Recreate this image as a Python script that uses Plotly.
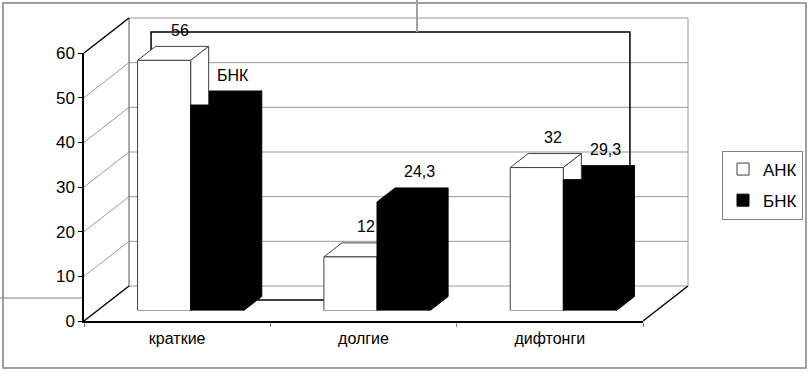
import plotly.graph_objects as go

# ---------------- data ----------------
categories = ["краткие", "долгие", "дифтонги"]
series_names = ["АНК", "БНК"]
ank_values = [56, 12, 32]
bnk_values = [46, 24.3, 29.3]
ank_labels = ["56", "12", "32"]
bnk_labels = ["БНК", "24,3", "29,3"]
y_ticks = [0, 10, 20, 30, 40, 50, 60]

# ---------------- geometry (pixels) ----------------
W, H = 811, 372
X0, X1 = 84, 643          # front plane x extent (category range -0.5..2.5)
Y0, YT = 321, 53          # front plane y for value 0 and value 60
YMAX = 60
DX, DY = 45, -35          # full depth offset
BAR_D0, BAR_DEPTH = 0.3, 0.4
BARGAP = 0.43
FONT = "Liberation Sans, Arial, sans-serif"

n = len(categories)
PXX = (X1 - X0) / n
PXY = (Y0 - YT) / YMAX
w = (1 - BARGAP) / 2      # bar width in category units


def P(xd, v, d):
    px = X0 + (xd + 0.5) * PXX + DX * d
    py = Y0 - v * PXY + DY * d
    return px / W, 1 - py / H


def line(a, b, color, width):
    return dict(type="line", xref="paper", yref="paper", layer="below",
                x0=a[0], y0=a[1], x1=b[0], y1=b[1],
                line=dict(color=color, width=width))


def path(points, color, width, closed=False):
    s = "M " + " L ".join(f"{x:.5f},{y:.5f}" for x, y in points)
    if closed:
        s += " Z"
    return dict(type="path", xref="paper", yref="paper", layer="below",
                path=s, line=dict(color=color, width=width))


def pxline(x0, y0, x1, y1, color, width):
    return dict(type="line", xref="paper", yref="paper", layer="below",
                x0=x0 / W, y0=1 - y0 / H, x1=x1 / W, y1=1 - y1 / H,
                line=dict(color=color, width=width))


shapes = []
GRID = "#9a9a9a"
# back wall gridlines
for v in y_ticks:
    shapes.append(line(P(-0.5, v, 1), P(n - 0.5, v, 1), GRID, 1))
# back wall edges
shapes.append(line(P(-0.5, 0, 1), P(-0.5, YMAX, 1), "#555555", 1))
shapes.append(line(P(n - 0.5, 0, 1), P(n - 0.5, YMAX, 1), GRID, 1))
# left wall diagonals
for v in y_ticks:
    col = "#000000" if v in (0, YMAX) else GRID
    wd = 1.5 if v in (0, YMAX) else 1
    shapes.append(line(P(-0.5, v, 0), P(-0.5, v, 1), col, wd))
# floor right edge
shapes.append(line(P(n - 0.5, 0, 0), P(n - 0.5, 0, 1), "#000000", 1.5))
# outline rectangle at series depth
RD = 0.6
shapes.append(path([P(-w, 0, RD), P(-w, YMAX, RD), P(n - 1 + w, YMAX, RD),
                    P(n - 1 + w, 0, RD)], "#000000", 1.5))
shapes.append(line(P(-w, 0, RD), P(1 + w, 0, RD), "#000000", 1.5))

# outer frame and stray document lines
shapes.append(dict(type="rect", xref="paper", yref="paper", layer="below",
                   x0=3 / W, x1=806 / W, y0=1 - 368 / H, y1=1 - 3 / H,
                   line=dict(color="#808080", width=1.5)))
shapes.append(pxline(417, 0, 417, 32, "#a0a0a0", 2))
shapes.append(pxline(0, 298, 84, 298, "#808080", 1))

# 3D faces of bars, in bar-plane data units
bdx = BAR_DEPTH * DX / PXX
bdy = -BAR_DEPTH * DY / PXY


def face(points, fill, outline):
    s = "M " + " L ".join(f"{x:.5f},{y:.5f}" for x, y in points) + " Z"
    return dict(type="path", xref="x", yref="y", layer="below", path=s,
                fillcolor=fill, line=dict(color=outline, width=1))


for i in range(n):
    for (x0, x1, v, fill, outline) in [
        (i, i + w, bnk_values[i], "#000000", "#000000"),
        (i - w, i, ank_values[i], "#ffffff", "#404040"),
    ]:
        shapes.append(face([(x0, v), (x0 + bdx, v + bdy), (x1 + bdx, v + bdy), (x1, v)],
                           fill, outline))
        shapes.append(face([(x1, 0), (x1, v), (x1 + bdx, v + bdy), (x1 + bdx, bdy)],
                           fill, outline))

# data labels
annotations = []
for i in range(n):
    for xc, v, t in [(i - w / 2, ank_values[i], ank_labels[i]),
                     (i + w / 2, bnk_values[i], bnk_labels[i])]:
        annotations.append(dict(x=xc, y=v, xref="x", yref="y", text=t,
                                showarrow=False, xshift=16, yshift=30,
                                font=dict(size=16, color="#000000", family=FONT)))

fig = go.Figure()
fig.add_trace(go.Bar(x=categories, y=ank_values, name=series_names[0],
                     marker=dict(color="#ffffff", line=dict(color="#404040", width=1)),
                     legendgroup="a", hoverinfo="x+y"))
fig.add_trace(go.Bar(x=categories, y=bnk_values, name=series_names[1],
                     marker=dict(color="#000000", line=dict(color="#000000", width=1)),
                     legendgroup="b", hoverinfo="x+y"))
fig.add_trace(go.Scatter(x=categories, y=[None] * n, xaxis="x2", yaxis="y2",
                         mode="markers", showlegend=False, hoverinfo="skip"))

bx0 = (X0 + BAR_D0 * DX) / W
bx1 = (X1 + BAR_D0 * DX) / W
by0 = 1 - (Y0 + BAR_D0 * DY) / H
by1 = 1 - (YT + BAR_D0 * DY) / H

fig.update_layout(
    width=W, height=H, autosize=False,
    margin=dict(l=0, r=0, t=0, b=0, autoexpand=False),
    paper_bgcolor="#ffffff",
    plot_bgcolor="rgba(0,0,0,0)",
    barmode="group", bargap=BARGAP, bargroupgap=0,
    font=dict(family=FONT, size=16, color="#000000"),
    xaxis=dict(domain=[bx0, bx1], type="category", categoryarray=categories,
               range=[-0.5, n - 0.5], showticklabels=False, showgrid=False,
               showline=False, zeroline=False, ticks="", automargin=False),
    yaxis=dict(domain=[by0, by1], range=[0, YMAX], showticklabels=False,
               showgrid=False, showline=False, zeroline=False, ticks="",
               automargin=False),
    xaxis2=dict(domain=[X0 / W, X1 / W], anchor="y2", type="category",
                categoryarray=categories, range=[-0.5, n - 0.5],
                tickson="boundaries", ticks="outside", ticklen=4,
                tickcolor="#808080", showline=True, linecolor="#000000",
                linewidth=1.5, showgrid=False, zeroline=False,
                tickfont=dict(size=16), ticklabelstandoff=2, automargin=False),
    yaxis2=dict(domain=[1 - Y0 / H, 1 - YT / H], anchor="x2", range=[0, YMAX],
                tickvals=y_ticks, ticks="outside", ticklen=4, tickcolor="#000000",
                showline=True, linecolor="#000000", linewidth=1.5,
                showgrid=False, zeroline=False, tickfont=dict(size=17),
                automargin=False),
    legend=dict(x=803 / W, xanchor="right", y=1 - 185 / H, yanchor="middle",
                bordercolor="#808080", borderwidth=1, bgcolor="#ffffff",
                font=dict(size=17, family=FONT), traceorder="grouped",
                tracegroupgap=6),
    shapes=shapes,
    annotations=annotations,
    showlegend=True,
)

POST = (
    "document.documentElement.style.margin='0';"
    "document.documentElement.style.padding='0';"
    "document.documentElement.style.overflow='hidden';"
    "document.body.style.margin='0';"
    "document.body.style.padding='0';"
    "document.body.style.overflow='hidden';"
    "var gd=document.getElementById('{plot_id}');"
    "gd.style.position='fixed';gd.style.left='0px';gd.style.top='0px';"
)

fig.write_html("out.html", config={"displayModeBar": False, "responsive": False},
               post_script=POST)
